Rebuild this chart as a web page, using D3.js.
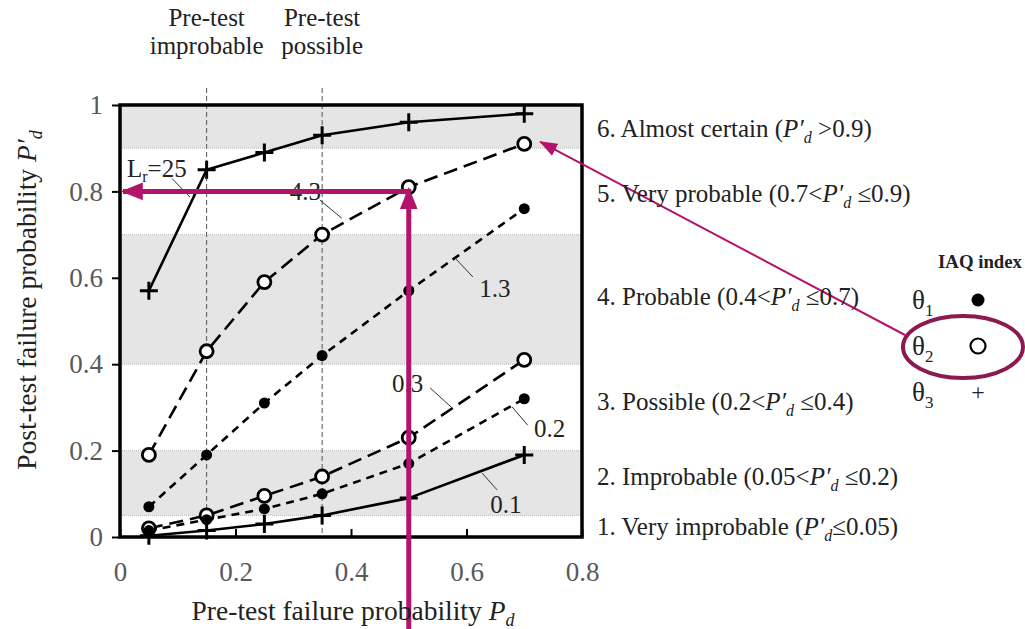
<html>
<head>
<style>
  body { margin: 0; background: #fff; }
  text { font-family: "Liberation Serif", "Times New Roman", serif; }
</style>
<script src="https://d3js.org/d3.v7.min.js"></script>
</head>
<body>
<svg width="1025" height="629"></svg>
<script>
// pre-test probabilities (x values)
var pd = [0.05, 0.15, 0.25, 0.35, 0.5, 0.7];
// post-test probabilities for each likelihood ratio
var lr25 = [0.57, 0.85, 0.89, 0.93, 0.96, 0.98];
var lr43 = [0.19, 0.43, 0.59, 0.70, 0.81, 0.91];
var lr13 = [0.07, 0.19, 0.31, 0.42, 0.57, 0.76];
var lr03 = [0.02, 0.05, 0.095, 0.14, 0.23, 0.41];
var lr02 = [0.015, 0.04, 0.065, 0.10, 0.17, 0.32];
var lr01 = [0.003, 0.015, 0.03, 0.05, 0.09, 0.19];
var bandEdges = [0, 0.05, 0.2, 0.4, 0.7, 0.9, 1];
var xTicks = [0, 0.2, 0.4, 0.6, 0.8];
var yTicks = [0, 0.2, 0.4, 0.6, 0.8, 1];
var classNames = ["Very improbable", "Improbable", "Possible", "Probable", "Very probable", "Almost certain"];
var classRanges = [["(", "≤0.05)"], ["(0.05<", " ≤0.2)"], ["(0.2<", " ≤0.4)"], ["(0.4<", " ≤0.7)"], ["(0.7<", " ≤0.9)"], ["(", " >0.9)"]];
var classLabelY = [0.025, 0.14, 0.315, 0.558, 0.796, 0.947];
var preTestLines = [0.15, 0.35];
var preTestNames = [["Pre-test", "improbable"], ["Pre-test", "possible"]];

var svg = d3.select("svg");
var x = d3.scaleLinear().domain([0, 0.8]).range([120, 582]);
var y = d3.scaleLinear().domain([0, 1]).range([537, 105]);

// shaded bands
for (var i = 0; i < bandEdges.length - 1; i++) {
  svg.append("rect")
    .attr("x", x(0)).attr("width", x(0.8) - x(0))
    .attr("y", y(bandEdges[i + 1])).attr("height", y(bandEdges[i]) - y(bandEdges[i + 1]))
    .attr("fill", i % 2 == 1 ? "#e5e5e5" : "#ffffff");
}
bandEdges.slice(1, -1).forEach(function(b) {
  svg.append("line")
    .attr("x1", x(0)).attr("x2", x(0.8)).attr("y1", y(b)).attr("y2", y(b))
    .attr("stroke", "#b8b8b8").attr("stroke-width", 1).attr("stroke-dasharray", "1,1");
});

// pre-test vertical dashed lines + headers
preTestLines.forEach(function(p, k) {
  svg.append("line")
    .attr("x1", x(p)).attr("x2", x(p)).attr("y1", 88).attr("y2", y(0))
    .attr("stroke", "#555").attr("stroke-width", 1).attr("stroke-dasharray", "5,3");
  svg.append("text").attr("x", x(p)).attr("y", 26).attr("text-anchor", "middle")
    .attr("font-size", 25).attr("fill", "#222").text(preTestNames[k][0]);
  svg.append("text").attr("x", x(p)).attr("y", 54).attr("text-anchor", "middle")
    .attr("font-size", 25).attr("fill", "#222").text(preTestNames[k][1]);
});

// axes
var yAxis = svg.append("g").attr("transform", "translate(" + x(0) + ",0)")
  .call(d3.axisLeft(y).tickValues(yTicks).tickSizeInner(8).tickSizeOuter(0).tickPadding(9)
    .tickFormat(function(d) { return d; }));
var xAxis = svg.append("g").attr("transform", "translate(0," + y(0) + ")")
  .call(d3.axisBottom(x).tickValues(xTicks).tickSizeInner(-8).tickSizeOuter(0).tickPadding(25)
    .tickFormat(function(d) { return d; }));
[yAxis, xAxis].forEach(function(a) {
  a.select(".domain").remove();
  a.selectAll("line").attr("stroke", "#000").attr("stroke-width", 2);
  a.selectAll("text").attr("font-size", 27).attr("fill", "#595959")
    .attr("font-family", "Liberation Serif, serif");
});

// plot frame
svg.append("rect")
  .attr("x", x(0)).attr("y", y(1)).attr("width", x(0.8) - x(0)).attr("height", y(0) - y(1))
  .attr("fill", "none").attr("stroke", "#000").attr("stroke-width", 3.5);

// series
var series = [
  {v: lr25, dash: null, mark: "plus"},
  {v: lr43, dash: "14,7", mark: "open"},
  {v: lr13, dash: "8,6", mark: "dot"},
  {v: lr03, dash: "14,7", mark: "open"},
  {v: lr02, dash: "8,6", mark: "dot"},
  {v: lr01, dash: null, mark: "plus"}
];
var line = d3.line()
  .x(function(d, i) { return x(pd[i]); })
  .y(function(d) { return y(d); });

series.forEach(function(s) {
  svg.append("path").attr("d", line(s.v))
    .attr("fill", "none").attr("stroke", "#000").attr("stroke-width", 2.6)
    .attr("stroke-linejoin", "round")
    .attr("stroke-dasharray", s.dash);
});

function drawMarker(g, mark, cx, cy) {
  if (mark == "plus") {
    g.append("path").attr("d", "M" + (cx - 9) + "," + cy + "H" + (cx + 9) + "M" + cx + "," + (cy - 9) + "V" + (cy + 9))
      .attr("stroke", "#000").attr("stroke-width", 3);
  } else if (mark == "open") {
    g.append("circle").attr("cx", cx).attr("cy", cy).attr("r", 6.5)
      .attr("fill", "#fff").attr("stroke", "#000").attr("stroke-width", 2.8);
  } else {
    g.append("circle").attr("cx", cx).attr("cy", cy).attr("r", 5.5).attr("fill", "#000");
  }
}
series.forEach(function(s) {
  s.v.forEach(function(d, i) { drawMarker(svg, s.mark, x(pd[i]), y(d)); });
});

// curve labels with leader lines (data coords)
var anns = [
  {t: "25", sub: true, tx: 0.012, ty: 0.833, l: [0.09, 0.83, 0.121, 0.787]},
  {t: "4.3", tx: 0.294, ty: 0.78, l: [0.346, 0.78, 0.384, 0.738]},
  {t: "1.3", tx: 0.622, ty: 0.556, l: [0.58, 0.646, 0.611, 0.602]},
  {t: "0.3", tx: 0.471, ty: 0.336, l: [0.537, 0.345, 0.575, 0.299]},
  {t: "0.2", tx: 0.717, ty: 0.231, l: [0.679, 0.301, 0.706, 0.259]},
  {t: "0.1", tx: 0.641, ty: 0.056, l: [0.627, 0.148, 0.653, 0.109]}
];
anns.forEach(function(a) {
  svg.append("line")
    .attr("x1", x(a.l[0])).attr("y1", y(a.l[1])).attr("x2", x(a.l[2])).attr("y2", y(a.l[3]))
    .attr("stroke", "#333").attr("stroke-width", 1);
  var t = svg.append("text").attr("x", x(a.tx)).attr("y", y(a.ty))
    .attr("font-size", 25).attr("fill", "#222");
  if (a.sub) {
    t.append("tspan").text("L");
    t.append("tspan").attr("font-size", 16).attr("dy", 5).text("r");
    t.append("tspan").attr("dy", -5).text("=" + a.t);
  } else {
    t.text(a.t);
  }
});

// magenta arrows
var defs = svg.append("defs");
defs.append("marker").attr("id", "bigHead").attr("markerUnits", "userSpaceOnUse")
  .attr("viewBox", "0 0 20 16").attr("refX", 18).attr("refY", 8)
  .attr("markerWidth", 22).attr("markerHeight", 18).attr("orient", "auto")
  .append("path").attr("d", "M0,0L20,8L0,16z").attr("fill", "#b3136b");
defs.append("marker").attr("id", "smallHead").attr("markerUnits", "userSpaceOnUse")
  .attr("viewBox", "0 0 16 12").attr("refX", 15).attr("refY", 6)
  .attr("markerWidth", 18).attr("markerHeight", 14).attr("orient", "auto")
  .append("path").attr("d", "M0,0L16,6L0,12z").attr("fill", "#b3136b");

svg.append("line")
  .attr("x1", x(0.5)).attr("y1", 629).attr("x2", x(0.5)).attr("y2", y(0.81) + 2)
  .attr("stroke", "#b3136b").attr("stroke-width", 5).attr("marker-end", "url(#bigHead)");
svg.append("line")
  .attr("x1", x(0.5) + 2).attr("y1", y(0.8)).attr("x2", x(0) + 3).attr("y2", y(0.8))
  .attr("stroke", "#b3136b").attr("stroke-width", 5).attr("marker-end", "url(#bigHead)");
svg.append("line")
  .attr("x1", 905).attr("y1", 335).attr("x2", x(0.7) + 16).attr("y2", y(0.91) - 2)
  .attr("stroke", "#b3136b").attr("stroke-width", 2).attr("marker-end", "url(#smallHead)");

// class labels on the right
classNames.forEach(function(n, k) {
  var t = svg.append("text").attr("x", 597).attr("y", y(classLabelY[k])).attr("dy", "0.35em")
    .attr("font-size", 25).attr("fill", "#222");
  t.append("tspan").text((k + 1) + ". " + n + " " + classRanges[k][0]);
  t.append("tspan").attr("font-style", "italic").text("P′");
  t.append("tspan").attr("font-style", "italic").attr("font-size", 16).attr("dy", 6).text("d");
  t.append("tspan").attr("dy", -6).text(classRanges[k][1]);
});

// legend
var leg = svg.append("text").attr("x", 1022).attr("y", 268).attr("font-size", 20.5)
  .attr("text-anchor", "end")
  .attr("font-weight", "bold").attr("fill", "#222").text("IAQ index");
var legW = leg.node().getComputedTextLength();
if (legW > 84) leg.attr("font-size", 20.5 * 84 / legW);
var legMarks = ["dot", "open", "plus"];
legMarks.forEach(function(m, k) {
  var ly = 300 + k * 46;
  var t = svg.append("text").attr("x", 912).attr("y", ly).attr("dy", "0.35em")
    .attr("font-size", 27).attr("fill", "#222");
  t.append("tspan").text("θ");
  t.append("tspan").attr("font-size", 17).attr("dy", 7).text(k + 1);
  if (m == "plus") {
    svg.append("text").attr("x", 978).attr("y", ly).attr("dy", "0.35em")
      .attr("text-anchor", "middle").attr("font-size", 24).attr("fill", "#222").text("+");
  } else if (m == "open") {
    svg.append("circle").attr("cx", 978).attr("cy", ly).attr("r", 7.5)
      .attr("fill", "#fff").attr("stroke", "#000").attr("stroke-width", 2.2);
  } else {
    svg.append("circle").attr("cx", 978).attr("cy", ly).attr("r", 6.5).attr("fill", "#000");
  }
});
svg.append("ellipse").attr("cx", 963).attr("cy", 347).attr("rx", 60).attr("ry", 31)
  .attr("fill", "none").attr("stroke", "#8c1a50").attr("stroke-width", 4);

// axis titles
var yt = svg.append("text").attr("transform", "translate(36,300) rotate(-90)")
  .attr("text-anchor", "middle").attr("font-size", 27.5).attr("fill", "#222");
yt.append("tspan").text("Post-test failure probability ");
yt.append("tspan").attr("font-style", "italic").text("P′");
yt.append("tspan").attr("font-style", "italic").attr("font-size", 18).attr("dy", 6).text("d");

var xt = svg.append("text").attr("x", 353).attr("y", 620)
  .attr("text-anchor", "middle").attr("font-size", 27.5).attr("fill", "#222");
xt.append("tspan").text("Pre-test failure probability ");
xt.append("tspan").attr("font-style", "italic").text("P");
xt.append("tspan").attr("font-style", "italic").attr("font-size", 18).attr("dy", 6).text("d");
</script>
</body>
</html>
